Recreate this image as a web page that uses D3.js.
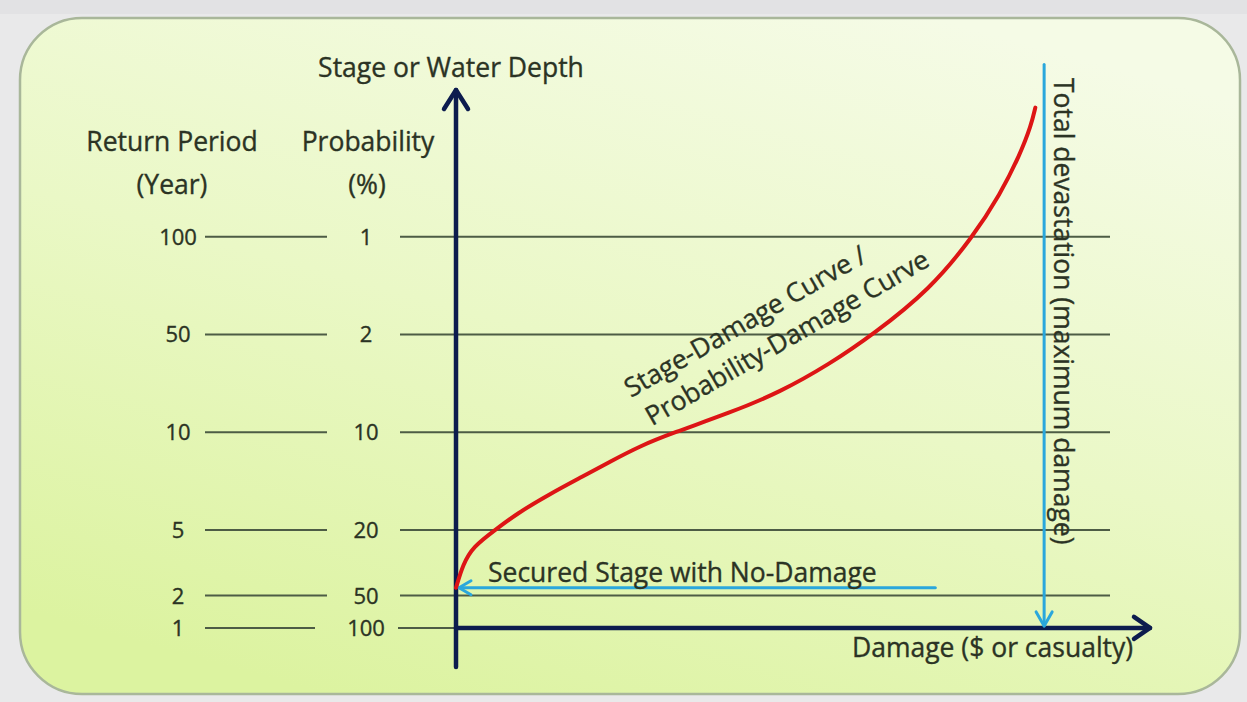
<!DOCTYPE html>
<html>
<head>
<meta charset="utf-8">
<script src="https://cdn.jsdelivr.net/npm/d3@7/dist/d3.min.js"></script>
<style>
  html, body { margin: 0; padding: 0; background: #e9e9ea; }
  svg { display: block; }
  text { font-family: "Open Sans", Lato, sans-serif; fill: #2b3324; stroke: #2b3324; stroke-width: 0.35px; }
</style>
</head>
<body>
<svg id="chart" width="1247" height="702"></svg>
<script>
// Flood-risk levels: stage units above the damage axis
const stageLevels   = [0, 0.33, 1, 2, 3, 4];
const returnPeriods = ["1", "2", "5", "10", "50", "100"];
const probabilities = ["100", "50", "20", "10", "2", "1"];

// Stage-damage curve (damage in % of maximum, stage in level units)
const curveDamage = [0, 1.19, 2.89, 6.63, 10.37, 15.98, 21.6, 26.2, 31.3, 36.7, 46.6, 55.1, 63.6, 70.9, 80.6, 87.9, 92.5, 95.9, 97.8, 98.5];
const curveStage  = [0.41, 0.65, 0.83, 1.0, 1.17, 1.37, 1.55, 1.70, 1.86, 1.99, 2.20, 2.41, 2.70, 3.0, 3.46, 4.0, 4.43, 4.84, 5.14, 5.32];

// Reference markers
const securedStage = 0.41;      // stage below which no damage occurs
const securedArrowFrom = 81.5;  // damage where the secured-stage arrow starts
const maxDamage = 100;          // total devastation
const maxDamageTop = 5.76;

const svg = d3.select("#chart");
const W = 1247, H = 702;
const FS = 26.5; // label font size
const NS = 22;   // level number font size

// Rounded panel with soft green gradient
const defs = svg.append("defs");
const grad = defs.append("linearGradient").attr("id", "panelFill")
  .attr("x1", "75%").attr("y1", "0%").attr("x2", "25%").attr("y2", "100%");
grad.append("stop").attr("offset", "0%").attr("stop-color", "#f5fbe6");
grad.append("stop").attr("offset", "50%").attr("stop-color", "#eaf8c6");
grad.append("stop").attr("offset", "100%").attr("stop-color", "#dcf3a0");

svg.append("rect").attr("x", 0).attr("y", 0).attr("width", W).attr("height", 14).attr("fill", "#e2e2e4");
svg.append("rect")
  .attr("x", 20).attr("y", 18).attr("width", 1220).attr("height", 676)
  .attr("rx", 62).attr("ry", 62)
  .attr("fill", "url(#panelFill)")
  .attr("stroke", "#a9b79a").attr("stroke-width", 2.5);

// Scales
const x = d3.scaleLinear().domain([0, 118]).range([456, 1150]);
const y = d3.scaleLinear().domain([-0.4, 5.5]).range([667, 90]);

const gridColor = "#4d5c45";
const navy = "#0c1c4e";
const blue = "#2aa7dc";

// Horizontal level lines with the return-period and probability labels
const g = svg.append("g");
stageLevels.forEach((s, i) => {
  const yy = y(s);
  const last = i === 0;
  g.append("line").attr("x1", 205).attr("x2", last ? 315 : 327)
    .attr("y1", yy).attr("y2", yy).attr("stroke", gridColor).attr("stroke-width", 2);
  g.append("line").attr("x1", last ? 398 : 400).attr("x2", last ? x(0) : 1110)
    .attr("y1", yy).attr("y2", yy).attr("stroke", gridColor).attr("stroke-width", 2);
  g.append("text").attr("x", 178).attr("y", yy + 8).attr("text-anchor", "middle")
    .attr("font-size", NS).text(returnPeriods[i]);
  g.append("text").attr("x", 366).attr("y", yy + 8).attr("text-anchor", "middle")
    .attr("font-size", NS).text(probabilities[i]);
});

// Column headers
svg.append("text").attr("x", 172).attr("y", 151).attr("text-anchor", "middle").attr("font-size", FS).text("Return Period");
svg.append("text").attr("x", 172).attr("y", 194).attr("text-anchor", "middle").attr("font-size", FS).text("(Year)");
svg.append("text").attr("x", 368).attr("y", 151).attr("text-anchor", "middle").attr("font-size", FS).text("Probability");
svg.append("text").attr("x", 367).attr("y", 194).attr("text-anchor", "middle").attr("font-size", FS).text("(%)");
svg.append("text").attr("x", 451).attr("y", 77).attr("text-anchor", "middle").attr("font-size", FS).text("Stage or Water Depth");

// Axes drawn as arrows
const axes = svg.append("g").attr("stroke", navy).attr("stroke-width", 4.5).attr("fill", "none")
  .attr("stroke-linecap", "round").attr("stroke-linejoin", "round");
axes.append("line").attr("x1", x(0)).attr("x2", x(0)).attr("y1", y(-0.4)).attr("y2", y(5.5));
axes.append("path").attr("d", `M${x(0) - 12},${y(5.5) + 19} L${x(0)},${y(5.5)} L${x(0) + 12},${y(5.5) + 19}`);
axes.append("line").attr("x1", x(0)).attr("x2", x(118)).attr("y1", y(0)).attr("y2", y(0));
axes.append("path").attr("d", `M${x(118) - 16},${y(0) - 11} L${x(118)},${y(0)} L${x(118) - 16},${y(0) + 11}`);

// Maximum damage marker
const blueG = svg.append("g").attr("stroke", blue).attr("stroke-width", 3).attr("fill", "none")
  .attr("stroke-linecap", "round").attr("stroke-linejoin", "round");
blueG.append("line").attr("x1", x(maxDamage)).attr("x2", x(maxDamage))
  .attr("y1", y(maxDamageTop)).attr("y2", y(0) - 2);
blueG.append("path").attr("d", `M${x(maxDamage) - 8},${y(0) - 16} L${x(maxDamage)},${y(0) - 2} L${x(maxDamage) + 8},${y(0) - 16}`);

// Secured stage arrow
blueG.append("line").attr("x1", x(securedArrowFrom)).attr("x2", x(0) + 3)
  .attr("y1", y(securedStage)).attr("y2", y(securedStage));
blueG.append("path").attr("d", `M${x(0) + 15},${y(securedStage) - 7} L${x(0) + 3},${y(securedStage)} L${x(0) + 15},${y(securedStage) + 7}`);

// Stage-damage curve (B-spline smoothing through the sampled points)
const pts = curveDamage.map((d, i) => [d, curveStage[i]]);
const line = d3.line().x(d => x(d[0])).y(d => y(d[1])).curve(d3.curveBasis);
svg.append("path").datum(pts).attr("d", line)
  .attr("fill", "none").attr("stroke", "#dd1515").attr("stroke-width", 4).attr("stroke-linecap", "round");

// Annotations
svg.append("text").attr("x", 488).attr("y", 582).attr("font-size", FS).text("Secured Stage with No-Damage");
svg.append("text").attr("x", 852).attr("y", 657).attr("font-size", FS).text("Damage ($ or casualty)");

svg.append("text").attr("transform", "translate(1054,78) rotate(90)")
  .attr("font-size", FS).text("Total devastation (maximum damage)");

const curveLabel = svg.append("text").attr("transform", "translate(631,398) rotate(-30)").attr("font-size", FS);
curveLabel.append("tspan").attr("x", 0).attr("y", 0).text("Stage-Damage Curve /");
curveLabel.append("tspan").attr("x", 4).attr("y", 35).text("Probability-Damage Curve");
</script>
</body>
</html>
